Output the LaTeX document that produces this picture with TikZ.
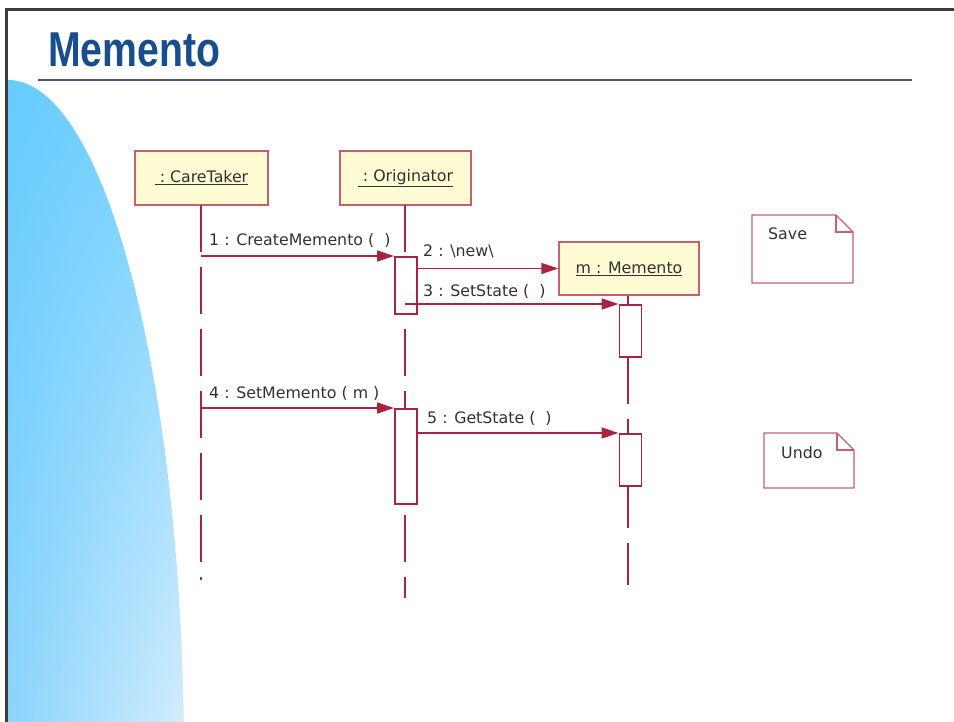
\documentclass[tikz,border=0pt]{standalone}
\usepackage{fontspec}
\setmainfont{DejaVu Sans}
\newfontfamily\titlefont{Liberation Sans}
\usetikzlibrary{arrows.meta,shadings}

\definecolor{umlred}{RGB}{168,36,64}
\definecolor{boxedge}{RGB}{196,96,112}
\definecolor{objfill}{RGB}{255,251,210}
\definecolor{txt}{RGB}{50,50,50}
\definecolor{titleblue}{RGB}{24,78,142}
\definecolor{rulecol}{RGB}{84,78,114}
\definecolor{framecol}{RGB}{60,60,60}
\definecolor{skyA}{RGB}{102,204,255}
\definecolor{skyB}{RGB}{122,210,255}
\definecolor{skyC}{RGB}{140,212,252}
\definecolor{skyD}{RGB}{212,237,252}

\tikzset{
  msgfont/.style={font=\fontsize{15.8}{19}\selectfont, text=txt},
  object/.style={draw=boxedge, line width=1.4pt, fill=objfill, inner sep=0pt,
    msgfont},
  activation/.style={draw=umlred, line width=1.6pt, fill=white, inner sep=0pt,
    minimum width=22pt, anchor=north west},
  lifeline/.style={draw=umlred, line width=1.4pt, dash pattern=on 47pt off 15pt},
  message/.style={draw=umlred, line width=1.4pt,
    -{Triangle[length=17pt,width=11pt]}},
  label/.style={msgfont, anchor=base west, inner sep=0pt},
  notebox/.style={draw=boxedge, line width=1.4pt, fill=white, line join=miter},
}

\begin{document}
\begin{tikzpicture}[x=1pt,y=-1pt]
\useasboundingbox (0,0) rectangle (954,722);

% background swoosh on the left
\begin{scope}
  \clip (8,760) ellipse [x radius=176, y radius=680];
  \shade[upper left=skyA, upper right=skyB, lower left=skyC, lower right=skyD]
    (7,78) rectangle (190,722);
\end{scope}

% slide frame
\draw[framecol, line width=3pt] (6,722) -- (6,10) -- (954,10);

% title and rule
\node[anchor=base west, inner sep=0pt, text=titleblue] (title) at (48,67)
  {\scalebox{0.8}[1]{\titlefont\bfseries\fontsize{49}{55}\selectfont Memento}};
\draw[rulecol, line width=2pt] (38,80) -- (912,80);

% objects
\node[object, minimum width=133pt, minimum height=54pt] (ct) at (201.5,178)
  {\underline{\ :\ CareTaker}};
\node[object, minimum width=131pt, minimum height=54pt] (or) at (405.5,178)
  {\underline{\ :\ Originator}};

% lifelines
\draw[lifeline] (201,205) -- (201,580);
\draw[lifeline] (405,205) -- (405,598);
\draw[lifeline] (628,295) -- (628,585);

\node[object, minimum width=140pt, minimum height=53pt] (mm) at (629,268.5)
  {\underline{m : Memento}};

% activation bars
\node[activation, minimum height=57pt] (a1) at (394,256) {};
\node[activation, minimum height=52pt] (a2) at (618.5,304) {};
\node[activation, minimum height=95pt] (a3) at (394,408) {};
\node[activation, minimum height=52pt] (a4) at (618.5,433) {};

% messages
\draw[message] (201,256) -- (a1.north west);
\draw[message] (a1.east |- mm.west) -- (mm.west);
\draw[message] (405,304) -- (a2.north west);
\draw[message] (201,408) -- (a3.north west);
\draw[message] (a3.east |- a4.north west) -- (a4.north west);

\node[label] (m1) at (209,246) {1 : CreateMemento (\ \ )};
\node[label] (m2) at (423,257) {2 : \textbackslash new\textbackslash};
\node[label] (m3) at (423,297) {3 : SetState (\ \ )};
\node[label] (m4) at (209,398) {4 : SetMemento ( m )};
\node[label] (m5) at (427,423) {5 : GetState (\ \ )};

% notes
\draw[notebox] (752,215) -- (836,215) -- (853,232) -- (853,283) -- (752,283) -- cycle;
\draw[boxedge, line width=1.4pt] (836,215) -- (836,232) -- (853,232);
\node[label] (save) at (768,240) {Save};

\draw[notebox] (764,433) -- (837,433) -- (854,450) -- (854,488) -- (764,488) -- cycle;
\draw[boxedge, line width=1.4pt] (837,433) -- (837,450) -- (854,450);
\node[label] (undo) at (781,458) {Undo};
\end{tikzpicture}
\end{document}
